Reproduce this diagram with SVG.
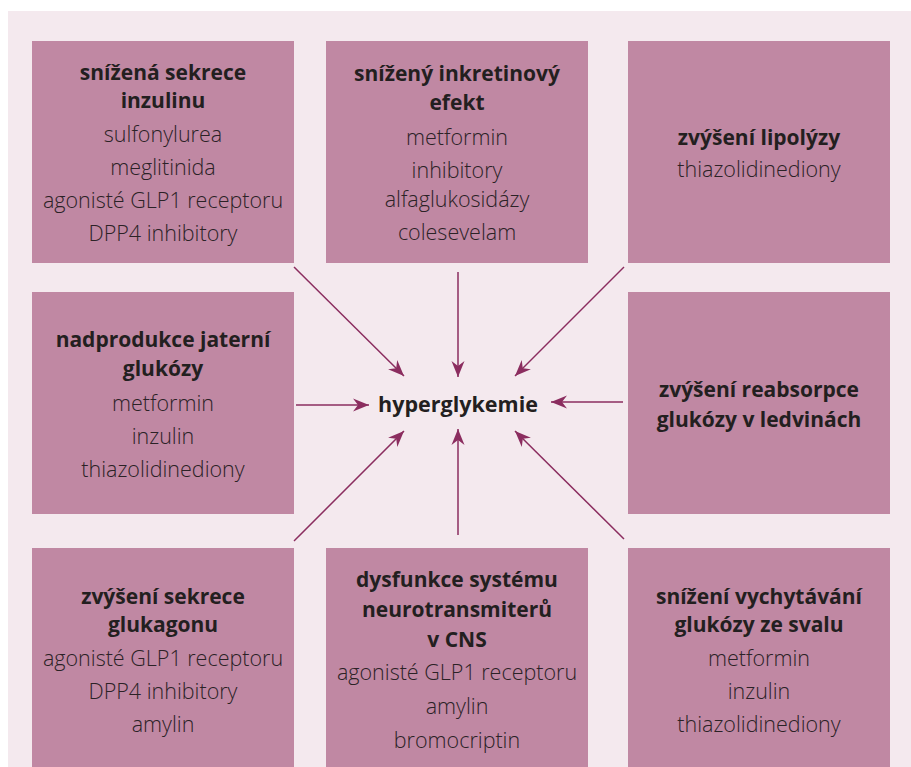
<svg xmlns="http://www.w3.org/2000/svg" width="911" height="767" viewBox="0 0 911 767">
<defs>
<style>
.bg{fill:#f4e9ee}
.box{fill:#c088a3}
.t{font-family:"Open Sans","Noto Sans","Liberation Sans",sans-serif;text-anchor:middle}
.b{font-weight:700;font-size:21px;fill:#231f20}
.r{font-weight:300;font-size:21.5px;fill:#2b2226}
.c{font-weight:700;font-size:21.5px;fill:#231f20}
.arr{stroke:#8b2d5f;stroke-width:1.5;fill:none;marker-end:url(#ah)}
</style>
<marker id="ah" markerUnits="userSpaceOnUse" markerWidth="20" markerHeight="16" viewBox="-17 -8 18 16" refX="0" refY="0" orient="auto">
<path d="M0,0 L-16,-6.5 L-11,0 L-16,6.5 Z" fill="#8b2d5f"/>
</marker>
</defs>
<rect x="0" y="0" width="911" height="767" fill="#ffffff"/>
<rect class="bg" x="8" y="11" width="903" height="756"/>

<g id="n-snizena-sekrece">
<rect class="box" x="32" y="41" width="262" height="222"/>
<text class="t b" x="163" y="80">snížená sekrece</text>
<text class="t b" x="163" y="108">inzulinu</text>
<text class="t r" x="163" y="142">sulfonylurea</text>
<text class="t r" x="163" y="175">meglitinida</text>
<text class="t r" x="163" y="208">agonisté GLP1 receptoru</text>
<text class="t r" x="163" y="241">DPP4 inhibitory</text>
</g>

<g id="n-inkretinovy">
<rect class="box" x="326" y="41" width="262" height="222"/>
<text class="t b" x="457" y="81">snížený inkretinový</text>
<text class="t b" x="457" y="110">efekt</text>
<text class="t r" x="457" y="145">metformin</text>
<text class="t r" x="457" y="178">inhibitory</text>
<text class="t r" x="457" y="207">alfaglukosidázy</text>
<text class="t r" x="457" y="240">colesevelam</text>
</g>

<g id="n-lipolyza">
<rect class="box" x="628" y="41" width="262" height="222"/>
<text class="t b" x="759" y="145">zvýšení lipolýzy</text>
<text class="t r" x="759" y="177">thiazolidinediony</text>
</g>

<g id="n-nadprodukce">
<rect class="box" x="32" y="292" width="262" height="222"/>
<text class="t b" x="163" y="347">nadprodukce jaterní</text>
<text class="t b" x="163" y="376">glukózy</text>
<text class="t r" x="163" y="411">metformin</text>
<text class="t r" x="163" y="444">inzulin</text>
<text class="t r" x="163" y="477">thiazolidinediony</text>
</g>

<g id="n-hyperglykemie">
<text class="t c" x="458" y="412">hyperglykemie</text>
</g>

<g id="n-reabsorpce">
<rect class="box" x="628" y="292" width="262" height="222"/>
<text class="t b" x="759" y="397">zvýšení reabsorpce</text>
<text class="t b" x="759" y="427">glukózy v ledvinách</text>
</g>

<g id="n-glukagon">
<rect class="box" x="32" y="548" width="262" height="219"/>
<text class="t b" x="163" y="604">zvýšení sekrece</text>
<text class="t b" x="163" y="632">glukagonu</text>
<text class="t r" x="163" y="666">agonisté GLP1 receptoru</text>
<text class="t r" x="163" y="699">DPP4 inhibitory</text>
<text class="t r" x="163" y="732">amylin</text>
</g>

<g id="n-cns">
<rect class="box" x="326" y="548" width="262" height="219"/>
<text class="t b" x="457" y="587">dysfunkce systému</text>
<text class="t b" x="457" y="617">neurotransmiterů</text>
<text class="t b" x="457" y="647">v CNS</text>
<text class="t r" x="457" y="680">agonisté GLP1 receptoru</text>
<text class="t r" x="457" y="714">amylin</text>
<text class="t r" x="457" y="748">bromocriptin</text>
</g>

<g id="n-vychytavani">
<rect class="box" x="628" y="548" width="262" height="219"/>
<text class="t b" x="759" y="604">snížení vychytávání</text>
<text class="t b" x="759" y="632">glukózy ze svalu</text>
<text class="t r" x="759" y="666">metformin</text>
<text class="t r" x="759" y="699">inzulin</text>
<text class="t r" x="759" y="732">thiazolidinediony</text>
</g>

<g id="connectors">
<line class="arr" x1="294" y1="267" x2="404" y2="376"/>
<line class="arr" x1="458" y1="272" x2="458" y2="377"/>
<line class="arr" x1="624" y1="267" x2="515" y2="376"/>
<line class="arr" x1="296" y1="405" x2="369" y2="405"/>
<line class="arr" x1="623" y1="402" x2="551" y2="402"/>
<line class="arr" x1="294" y1="541" x2="404" y2="431"/>
<line class="arr" x1="458" y1="535" x2="458" y2="429"/>
<line class="arr" x1="624" y1="539" x2="515" y2="431"/>
</g>
</svg>
